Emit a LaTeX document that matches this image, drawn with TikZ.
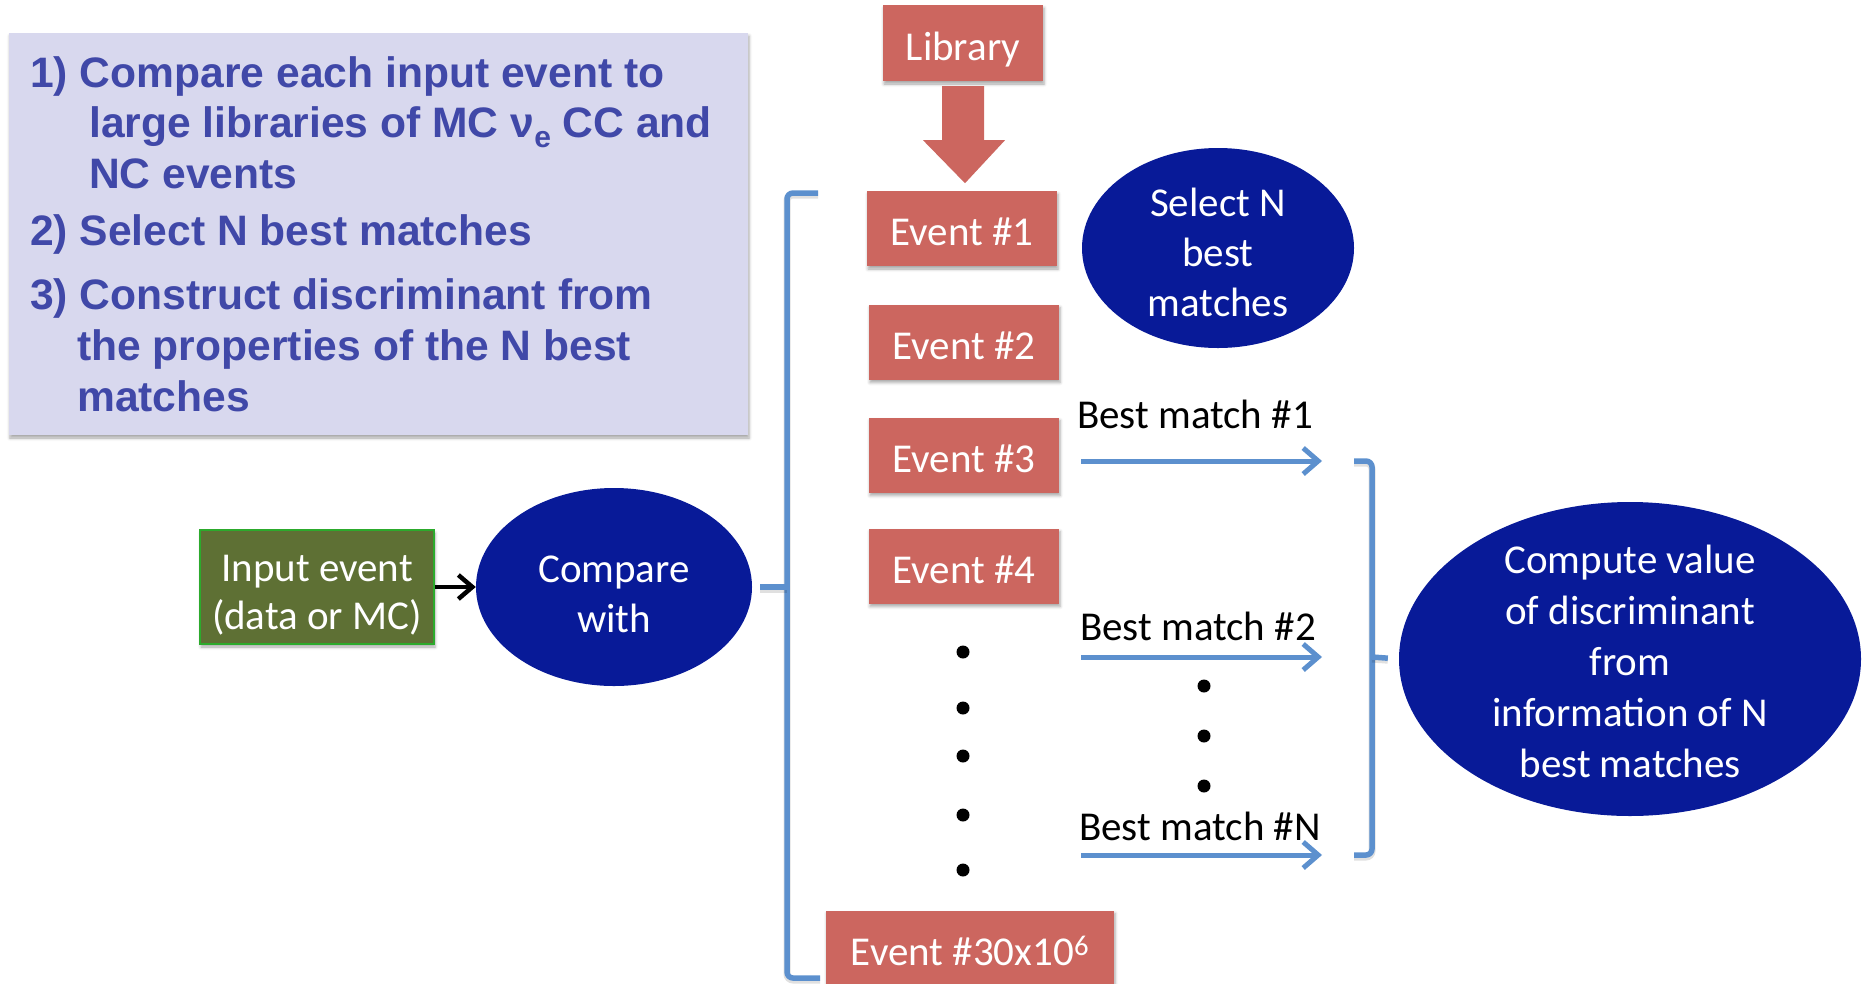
\documentclass[tikz,border=0pt]{standalone}
\usepackage{fontspec}
\setmainfont{Carlito}
\newfontfamily\headfont{Liberation Sans}
\usetikzlibrary{shapes.geometric,arrows.meta,shadows.blur,calc}

\definecolor{salmon}{RGB}{204,102,95}
\definecolor{navy}{RGB}{8,26,152}
\definecolor{olive}{RGB}{94,112,52}
\definecolor{oliveedge}{RGB}{44,170,44}
\definecolor{bracket}{RGB}{92,144,206}
\definecolor{lavender}{RGB}{216,216,238}
\definecolor{headblue}{RGB}{64,72,168}

% centred stack of lines with no height of its own, shifted inside its shape
\newcommand{\stacklines}[2]{\raisebox{#1}[0pt][0pt]{\begin{tabular}{@{}c@{}}#2\end{tabular}}}

\begin{document}
\begin{tikzpicture}[x=1pt,y=-1pt,
  body/.style={font=\fontsize{41}{50}\selectfont},
  softshadow/.style={blur shadow={shadow xshift=1pt,shadow yshift=-3pt,shadow blur radius=3pt,shadow opacity=35}},
  lineshadow/.style={preaction={draw=black,draw opacity=.12,line width=7pt,transform canvas={yshift=-2pt}}},
  evbox/.style={body,fill=salmon,text=white,minimum width=190pt,minimum height=75pt,inner sep=0pt,
    text height=34pt,text depth=0pt,softshadow},
  bluebubble/.style={ellipse,fill=navy,text=white,inner sep=0pt,body},
  headline/.style={anchor=base west,inner sep=0pt,text=headblue,font=\headfont\bfseries\fontsize{42.6}{50}\selectfont},
  matchlabel/.style={body,text=black,inner sep=0pt},
  matcharrow/.style={draw=bracket,line width=5pt,-{Straight Barb[length=15pt,width=26pt,line width=5pt]}},
  bracketline/.style={draw=bracket,line width=5.5pt,rounded corners=6pt,lineshadow},
  dot/.style={circle,fill=black,inner sep=0pt,minimum size=13pt}]

\useasboundingbox (0,0) rectangle (1862,983);

% summary panel
\fill[lavender,softshadow] (9,33) rectangle (748,435);
\node[headline] (h1) at (30,87)  {1) Compare each input event to};
\node[headline] (h2) at (89,137) {large libraries of MC ν\raisebox{-10pt}{\fontsize{30}{30}\selectfont e} CC and};
\node[headline] (h3) at (89,188) {NC events};
\node[headline] (h4) at (30,245) {2) Select N best matches};
\node[headline] (h5) at (30,309) {3) Construct discriminant from};
\node[headline] (h6) at (77,360) {the properties of the N best};
\node[headline] (h7) at (77,411) {matches};

% library and its events
\node[evbox,minimum width=160pt,minimum height=76pt] (lib) at (963,43) {Library};
\fill[salmon] ($(lib.south)+(-21,5)$) -- ++(42,0) -- ++(0,54) -- ++(21,0)
  -- ($(lib.south)+(2,102)$) -- ($(lib.south)+(-40,59)$) -- ++(19,0) -- cycle;

\node[evbox] (e1) at (962,228.5) {Event \#1};
\node[evbox] (e2) at (964,342) {Event \#2};
\node[evbox] (e3) at (964,455) {Event \#3};
\node[evbox] (e4) at (964,566) {Event \#4};
\node[evbox,minimum width=288pt] (eN) at (970,948) {Event \#30x10\textsuperscript{6}};

\foreach \y [count=\i] in {652,708,756,815,870}
  \node[dot] (ld\i) at (963,\y) {};

% input side
\node[fill=olive,draw=oliveedge,line width=2pt,text=white,
  minimum width=234pt,minimum height=114pt,inner sep=0pt,
  font=\fontsize{41}{48}\selectfont,softshadow] (input) at (317,587)
  {\stacklines{-15pt}{Input event\\(data or MC)}};
\node[bluebubble,minimum width=276pt,minimum height=198pt] (compare) at (614,587)
  {\stacklines{-16.5pt}{Compare\\with}};
\draw[line width=4.5pt,-{Straight Barb[length=14pt,width=24pt,line width=4.5pt]}] (input) -- (compare);

\node[bluebubble,minimum width=272pt,minimum height=200pt] (select) at (1218,248)
  {\stacklines{-15pt}{Select N\\best\\matches}};

% bracket grouping the library events
\coordinate (lbtop) at (818,193);
\coordinate (lbbot) at (820,978);
\coordinate (lbmid) at (787,587);
\draw[bracketline] (lbtop) -- (787,193) -- (787,978) -- (lbbot);
\draw[draw=bracket,line width=5.5pt,shorten >=8pt,lineshadow] (lbmid) -- (compare.east);

% best matches
\coordinate (m1s) at (1081,461);
\coordinate (m2s) at (1081,657);
\coordinate (mNs) at (1081,855);
\coordinate (m1e) at (1322,461);
\coordinate (m2e) at (1322,657);
\coordinate (mNe) at (1322,855);
\draw[matcharrow] (m1s) -- (m1e);
\draw[matcharrow] (m2s) -- (m2e);
\draw[matcharrow] (mNs) -- (mNe);
\node[matchlabel] (bm1) at (1195,414) {Best match \#1};
\node[matchlabel] (bm2) at (1198,626) {Best match \#2};
\node[matchlabel] (bmN) at (1200,826) {Best match \#N};
\foreach \y [count=\i] in {686,736,786}
  \node[dot] (rd\i) at (1204,\y) {};

% bracket collecting the best matches
\node[bluebubble,minimum width=462pt,minimum height=314pt,font=\fontsize{41}{51}\selectfont] (compute) at (1630,659)
  {\stacklines{-13pt}{Compute value\\of discriminant\\from\\information of N\\best matches}};
\coordinate (rbmid) at (1372,657);
\draw[bracketline] (1354,461) -- (1372,461) -- (1372,855) -- (1354,855);
\draw[draw=bracket,line width=5.5pt,shorten >=11pt,lineshadow] (rbmid) -- (compute.west);

\end{tikzpicture}
\end{document}
